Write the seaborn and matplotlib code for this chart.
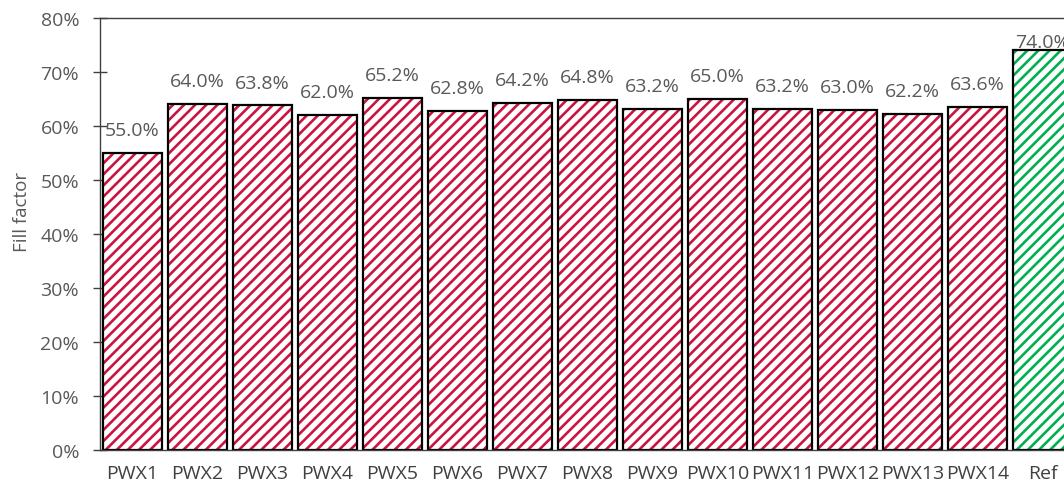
import matplotlib
matplotlib.use("Agg")
import matplotlib.pyplot as plt
import seaborn as sns
import pandas as pd
from matplotlib.ticker import PercentFormatter

# Fill factor per sample
samples = ["PWX1", "PWX2", "PWX3", "PWX4", "PWX5", "PWX6", "PWX7", "PWX8",
           "PWX9", "PWX10", "PWX11", "PWX12", "PWX13", "PWX14", "Ref"]
fill_factor = [55.0, 64.0, 63.8, 62.0, 65.2, 62.8, 64.2, 64.8,
               63.2, 65.0, 63.2, 63.0, 62.2, 63.6, 74.0]
y_ticks = [0, 10, 20, 30, 40, 50, 60, 70, 80]

RED = "#CC1440"
GREEN = "#00B050"
TEXT = "#595959"

df = pd.DataFrame({"sample": samples, "ff": fill_factor})
stripe_colors = {s: (GREEN if s == "Ref" else RED) for s in samples}

sns.set_theme(style="white")
plt.rcParams["font.family"] = ["Open Sans", "DejaVu Sans"]
plt.rcParams["hatch.linewidth"] = 1.9

fig = plt.figure(figsize=(10.64, 4.89), dpi=100)
ax = fig.add_axes([100 / 1064, 38 / 489, 975 / 1064, 432 / 489])

# Striped fill: hatch takes the edge colour, outline drawn separately
sns.barplot(data=df, x="sample", y="ff", hue="sample", palette=stripe_colors,
            legend=False, width=0.92, ax=ax, linewidth=0)
for patch, s in zip(ax.patches, samples):
    c = stripe_colors[s]
    patch.set_facecolor("white")
    patch.set_edgecolor(c)
    patch.set_hatch("///")
    patch.set_linewidth(0)

# Black outlines on top
sns.barplot(data=df, x="sample", y="ff", width=0.92, ax=ax,
            fill=False, color="black", linewidth=1.6, errorbar=None)
for patch in ax.patches[len(samples):]:
    patch.set_edgecolor("black")
    patch.set_facecolor("none")
    patch.set_linewidth(1.6)

# Value labels
for i, (s, v) in enumerate(zip(samples, fill_factor)):
    off = 6 if s == "Ref" else 16.5
    ax.annotate(f"{v:.1f}%", (i, v), xytext=(0, off), textcoords="offset points",
                ha="center", va="center", fontsize=14, color=TEXT)

ax.set_xlim(-0.5, len(samples) - 0.5)
ax.set_ylim(0, 80)
ax.set_yticks(y_ticks)
ax.yaxis.set_major_formatter(PercentFormatter(decimals=0))
ax.set_xlabel("")
ax.set_ylabel("Fill factor", fontsize=13.5, color=TEXT)
ax.yaxis.set_label_coords(-69 / 975, 0.553)

ax.tick_params(axis="y", direction="inout", length=10, width=1, color="#404040",
               labelsize=14, labelcolor=TEXT, pad=10, left=True)
ax.tick_params(axis="x", length=0, labelsize=14, labelcolor="#404040", pad=10)

for side in ["left", "bottom", "top", "right"]:
    ax.spines[side].set_visible(True)
    ax.spines[side].set_color("#404040")
    ax.spines[side].set_linewidth(1.0)

fig.savefig("out.png", dpi=100)
